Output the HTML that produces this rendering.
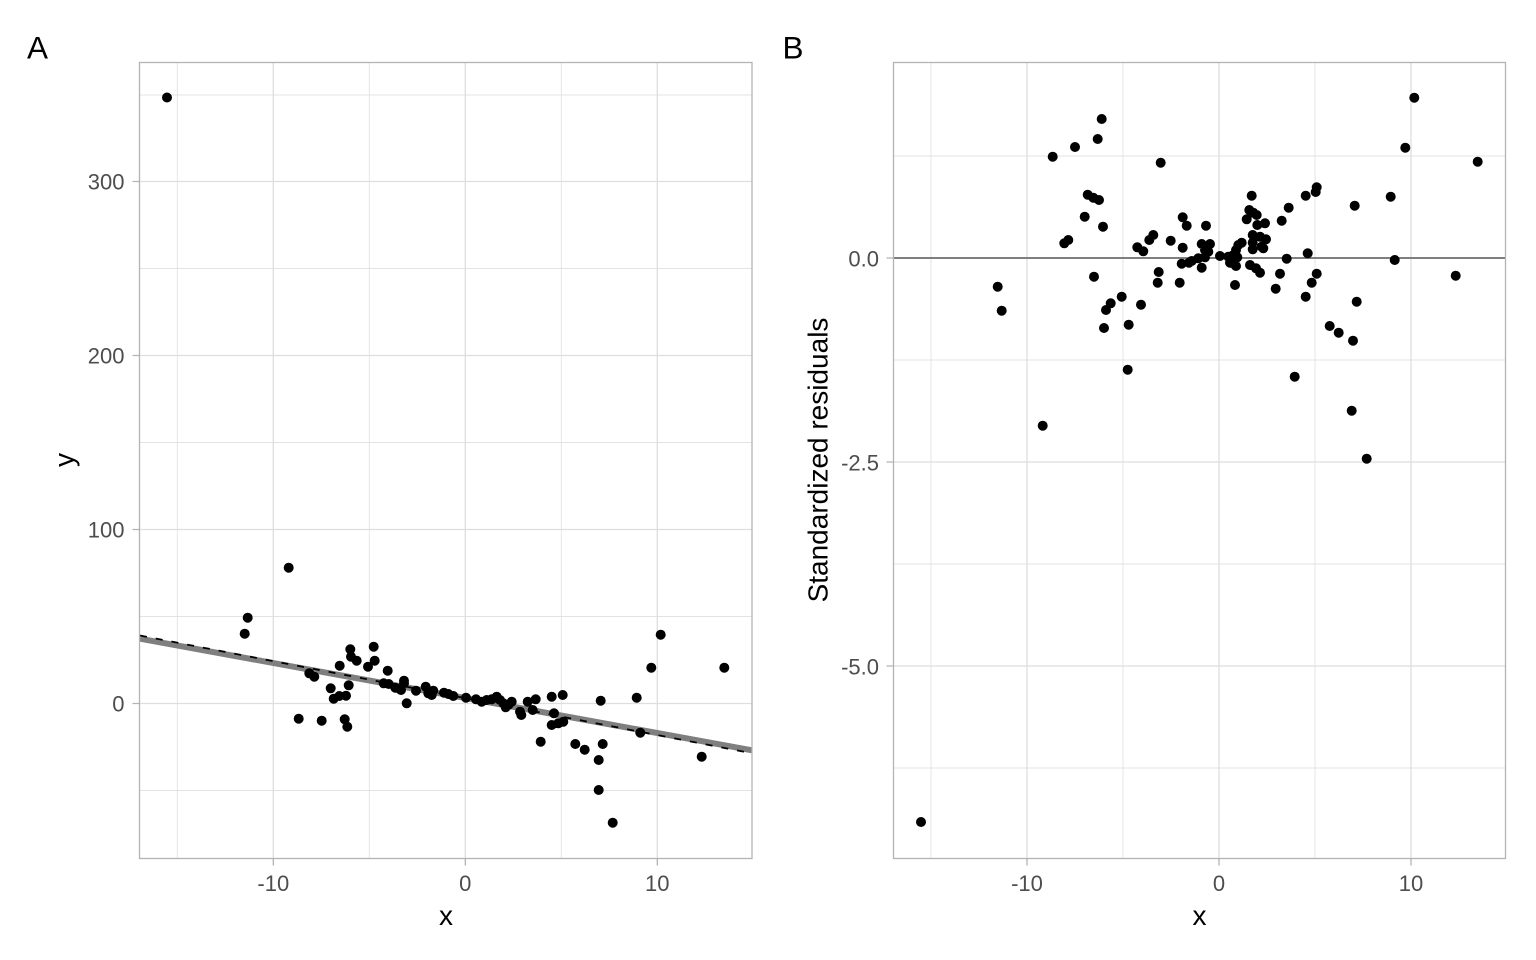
<!DOCTYPE html>
<html>
<head>
<meta charset="utf-8">
<style>
html,body{margin:0;padding:0;background:#fff;}
svg{display:block;}
text{font-family:"Liberation Sans",Arial,sans-serif;}
</style>
</head>
<body>
<svg width="1536" height="960" viewBox="0 0 1536 960" xmlns="http://www.w3.org/2000/svg">
<rect width="1536" height="960" fill="#fff"/>

<path d="M177.3 62.5V858.5M369.3 62.5V858.5M561.3 62.5V858.5M139.5 790.5H752M139.5 616.5H752M139.5 442.5H752M139.5 268.5H752M139.5 95H752" stroke="#E3E3E3" stroke-width="0.9" fill="none"/>
<path d="M273.3 62.5V858.5M465.3 62.5V858.5M657.3 62.5V858.5M139.5 703.5H752M139.5 529.5H752M139.5 355.5H752M139.5 181.5H752" stroke="#DEDEDE" stroke-width="1.3" fill="none"/>
<line x1="140" y1="638.7" x2="752" y2="750.3" stroke="#7F7F7F" stroke-width="6"/>
<line x1="140" y1="635.5" x2="752" y2="753.3" stroke="#000" stroke-width="1.8" stroke-dasharray="7 9"/>
<path fill="none" stroke="#000" stroke-width="10" stroke-linecap="round" d="
M167 97.5h0M288.7 567.7h0M247.7 617.7h0M244.7 633.7h0M298.7 718.7h0M321.7 720.7h0M344.7 719.3h0M347.3 726.7h0
M309.3 673.3h0M314.3 676.7h0M330.7 688.3h0M333.7 698.7h0M339.3 696h0M346 695.7h0M348.7 685.3h0M339.7 665.7h0
M350.3 649.3h0M351 656.7h0M356.7 660.7h0M373.7 646.7h0M374.7 660.7h0M368 666.7h0M387.7 670.7h0M383.7 683.3h0
M388.7 684h0M395.3 687.7h0M401 690h0M404 680.7h0M404 683.3h0M406.7 703.3h0M416 690.7h0M425.7 686.7h0
M428.3 693.3h0M433.3 690.7h0M431.7 695h0M444 692.7h0M448.3 694h0M453.3 696h0M466 697.7h0M476 699.3h0
M481.7 701.7h0M486.7 700h0M491.7 699.3h0M496.7 696.7h0M500 700h0M503.3 703.3h0M505.7 707.3h0M511.7 701.7h0
M508.3 705h0M520 711.7h0M527.7 701.7h0M535.7 699.3h0M521.3 715h0M532.7 710h0M551.7 696.7h0M562.7 695h0
M554 713.3h0M551.7 725h0M558.3 723.3h0M563.3 721.7h0M540.7 741.7h0M600.7 700.7h0M636.7 697.7h0M660.7 634.7h0
M651.3 667.7h0M724.3 667.7h0M640.3 732.7h0M575.3 744h0M584.7 749.7h0M602.7 744h0M598.7 760h0M598.7 790h0
M612.7 822.7h0M701.7 756.7h0"/>
<rect x="139.5" y="62.5" width="612.5" height="796" fill="none" stroke="#B3B3B3" stroke-width="1.3"/>
<path d="M132.5 703.5h7M132.5 529.5h7M132.5 355.5h7M132.5 181.5h7M273.3 858.5v7M465.3 858.5v7M657.3 858.5v7" stroke="#B3B3B3" stroke-width="1.3" fill="none"/>
<g fill="#4D4D4D" font-size="22" text-anchor="end">
<text x="124.5" y="711.5">0</text>
<text x="124.5" y="537.5">100</text>
<text x="124.5" y="363.5">200</text>
<text x="124.5" y="189.5">300</text>
</g>
<g fill="#4D4D4D" font-size="22" text-anchor="middle">
<text x="273.3" y="891">-10</text>
<text x="465.3" y="891">0</text>
<text x="657.3" y="891">10</text>
</g>
<text x="446" y="925" font-size="28" text-anchor="middle" fill="#000">x</text>
<text transform="translate(73.5,460) rotate(-90)" font-size="28" text-anchor="middle" fill="#000">y</text>
<text x="27" y="58.3" font-size="31.5" fill="#000">A</text>

<path d="M931 62.5V858.5M1123 62.5V858.5M1315 62.5V858.5M893.5 156H1505.5M893.5 360H1505.5M893.5 564H1505.5M893.5 768H1505.5" stroke="#E3E3E3" stroke-width="0.9" fill="none"/>
<path d="M1027 62.5V858.5M1219 62.5V858.5M1411 62.5V858.5M893.5 462H1505.5M893.5 666H1505.5" stroke="#DEDEDE" stroke-width="1.3" fill="none"/>
<line x1="893.5" y1="258" x2="1505.5" y2="258" stroke="#7F7F7F" stroke-width="2"/>
<path fill="none" stroke="#000" stroke-width="10" stroke-linecap="round" d="
M1101.7 119h0M1097.7 139h0M1075 147h0M1052.7 156.7h0M1160.7 162.7h0M1087.7 194.7h0M1093.3 197.7h0M1099 200h0
M1084.7 216.7h0M1103 226.7h0M1064.3 243.3h0M1068.3 240h0M1182.7 217.3h0M1186.7 225.7h0M1206 225.7h0M1149.3 240h0
M1153.3 235h0M1170.7 240.7h0M1182.7 247.7h0M1137.3 247.3h0M1143.3 251.3h0M1094 276.7h0M1158.7 272h0M1157.7 282.7h0
M1179.7 282.7h0M1181.7 263.7h0M1189 262.7h0M1201.7 267.7h0M1121.7 296.7h0M1110.7 303.3h0M1106 310h0M1141 304.7h0
M1104 328h0M1128.7 324.7h0M1201.7 244h0M1210 244h0M1205 250h0M1208.3 251.7h0M1198.3 258.3h0M1205 257.3h0
M1191.7 261h0M1220 256h0M1230 262.7h0M1236 266h0M1233.3 255h0M1228.3 256.7h0M1236 250h0M1238.3 245h0
M1241.7 242.7h0M1237.3 257.3h0M1235 285h0M1251.7 195.7h0M1249.3 210h0M1253.3 212.7h0M1256.7 215h0M1246.7 219.3h0
M1257.3 225h0M1265 223.3h0M1252.7 235h0M1260 236.7h0M1266 239.3h0M1252.7 242.7h0M1252.7 249.3h0M1261.7 246.7h0
M1263.3 248.3h0M1250 265h0M1256 268.3h0M1260 272.7h0M1414.3 97.7h0M1405.3 147.7h0M1477.7 161.7h0M1316.7 187.3h0
M1315.7 192h0M1305.7 195.7h0M1288.7 207.7h0M1281.7 220.7h0M1354.7 205.7h0M1390.7 196.7h0M1286.7 258.7h0M1307.7 253.3h0
M1394.7 260h0M1280 273.7h0M1316.7 273.7h0M1275.7 288.7h0M1311.7 282.7h0M1305.7 296.7h0M1356.7 301.7h0M1455.7 275.7h0
M1329.7 326h0M1338.7 332.7h0M1353 340.7h0M1294.7 376.7h0M1351.7 410.7h0M1366.7 458.7h0M997.7 286.7h0M1001.7 310.7h0
M1127.7 369.7h0M1042.7 425.7h0M921 822h0"/>
<rect x="893.5" y="62.5" width="612" height="796" fill="none" stroke="#B3B3B3" stroke-width="1.3"/>
<path d="M886.5 258h7M886.5 462h7M886.5 666h7M1027 858.5v7M1219 858.5v7M1411 858.5v7" stroke="#B3B3B3" stroke-width="1.3" fill="none"/>
<g fill="#4D4D4D" font-size="22" text-anchor="end">
<text x="879" y="266.5">0.0</text>
<text x="879" y="470.5">-2.5</text>
<text x="879" y="674.5">-5.0</text>
</g>
<g fill="#4D4D4D" font-size="22" text-anchor="middle">
<text x="1027" y="891">-10</text>
<text x="1219" y="891">0</text>
<text x="1411" y="891">10</text>
</g>
<text x="1199.5" y="925" font-size="28" text-anchor="middle" fill="#000">x</text>
<text transform="translate(827.7,460) rotate(-90)" font-size="28" text-anchor="middle" fill="#000">Standardized residuals</text>
<text x="782.5" y="58.3" font-size="31.5" fill="#000">B</text>
</svg>
</body>
</html>
